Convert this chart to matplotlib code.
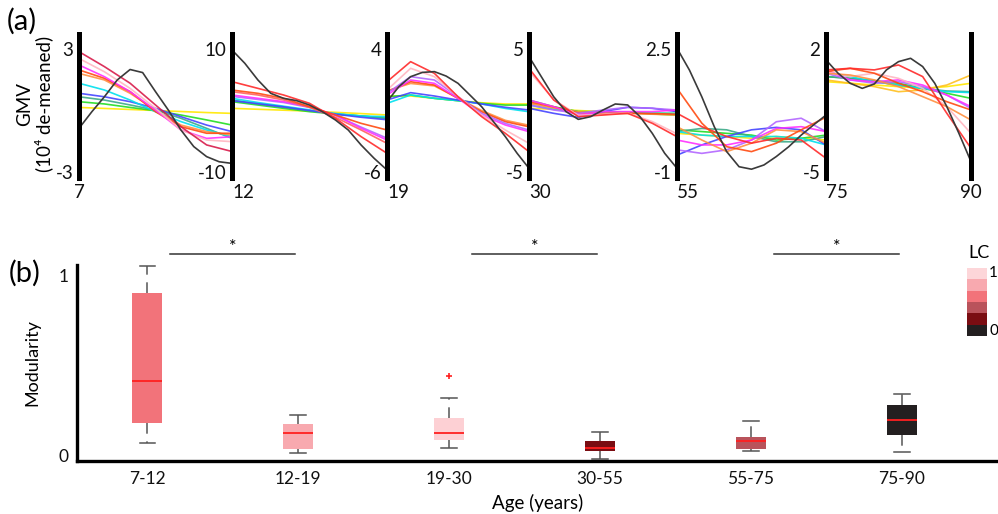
import matplotlib.pyplot as plt
import numpy as np
from matplotlib.colors import ListedColormap

plt.rcParams['font.family'] = ['Lato', 'DejaVu Sans']

# ---- panel (a): GMV trajectories per age window ----
seg_ages = [
    [7, 7.83, 8.67, 9.5, 10.33, 11.17, 12],
    [12, 13.17, 14.33, 15.5, 16.67, 17.83, 19],
    [19, 20.83, 22.67, 24.5, 26.33, 28.17, 30],
    [30, 34.17, 38.33, 42.5, 46.67, 50.83, 55],
    [55, 58.33, 61.67, 65, 68.33, 71.67, 75],
    [75, 77.5, 80, 82.5, 85, 87.5, 90],
]
# the black trajectory is read at a finer age step
black_ages = [
    [7, 7.42, 7.83, 8.25, 8.67, 9.08, 9.5, 9.92, 10.33, 10.75, 11.17, 11.58, 12],
    [12, 12.58, 13.17, 13.75, 14.33, 14.92, 15.5, 16.08, 16.67, 17.25, 17.83, 18.42, 19],
    [19, 19.92, 20.83, 21.75, 22.67, 23.58, 24.5, 25.42, 26.33, 27.25, 28.17, 29.08, 30],
    [30, 32.08, 34.17, 36.25, 38.33, 40.42, 42.5, 44.58, 46.67, 48.75, 50.83, 52.92, 55],
    [55, 56.67, 58.33, 60, 61.67, 63.33, 65, 66.67, 68.33, 70, 71.67, 73.33, 75],
    [75, 76.25, 77.5, 78.75, 80, 81.25, 82.5, 83.75, 85, 86.25, 87.5, 88.75, 90],
]
black_vals = [
    [-0.87, -0.06, 0.67, 1.49, 2.0, 1.85, 0.92, 0.02, -0.95, -1.76, -2.25, -2.5, -2.58],
    [9.84, 7.67, 4.96, 2.79, 1.98, 1.6, 0.89, -0.19, -1.54, -3.17, -5.61, -7.78, -9.67],
    [-0.28, 0.94, 1.75, 2.1, 2.16, 1.8, 1.21, 0.26, -0.69, -1.91, -3.13, -4.48, -5.7],
    [4.38, 2.75, 1.12, -0.09, -0.72, -0.5, 0.04, 0.53, 0.45, -0.5, -1.86, -3.48, -4.7],
    [2.52, 1.9, 1.14, 0.29, -0.42, -0.85, -0.92, -0.8, -0.56, -0.28, 0.05, 0.34, 0.62],
    [1.38, 0.62, 0.05, -0.24, 0.01, 0.81, 1.28, 1.47, 1.0, 0.05, -1.28, -2.8, -4.41],
]
seg_top = [3, 10, 4, 5, 2.5, 2]
seg_bot = [-3, -10, -6, -5, -1, -5]

curve_colors = {
    'yellow': '#ffe800', 'gold': '#ffc020', 'green': '#22dd22', 'teal': '#3caa88',
    'cyan': '#00e0ee', 'blue': '#4545ff', 'purple': '#b366ff', 'magenta': '#ff30ff',
    'orange': '#ff9040', 'orangered': '#ff4a10', 'salmon': '#ff6060', 'pink': '#ffb6c1',
    'red': '#ff2a2a', 'crimson': '#d81b4a',
}

seg1 = {
    'yellow': [0.15, 0.10, 0.05, 0.0, -0.05, -0.10, -0.14],
    'green': [0.43, 0.32, 0.15, -0.01, -0.22, -0.46, -0.71],
    'teal': [0.67, 0.51, 0.27, 0.02, -0.38, -0.87, -1.36],
    'blue': [0.84, 0.67, 0.43, 0.11, -0.30, -0.71, -1.03],
    'cyan': [1.33, 1.0, 0.51, -0.06, -0.54, -0.95, -1.28],
    'orange': [1.81, 1.49, 0.84, 0.02, -0.71, -1.03, -1.2],
    'orangered': [1.98, 1.57, 0.92, -0.06, -0.79, -1.11, -1.11],
    'magenta': [2.22, 1.65, 0.92, 0.02, -0.95, -1.36, -1.28],
    'pink': [2.54, 1.89, 1.08, 0.11, -0.95, -1.44, -1.52],
    'crimson': [2.87, 2.14, 1.33, 0.27, -0.79, -1.68, -2.0],
}
seg2 = {
    'yellow': [0.35, 0.2, 0.05, -0.1, -0.3, -0.5, -0.73],
    'green': [1.44, 0.89, 0.35, -0.19, -0.57, -0.89, -1.27],
    'teal': [1.71, 1.06, 0.51, -0.03, -0.57, -0.89, -1.27],
    'cyan': [1.98, 1.3, 0.7, 0.1, -0.5, -0.9, -1.0],
    'blue': [1.6, 1.1, 0.6, 0.0, -0.6, -1.1, -1.5],
    'purple': [2.3, 1.8, 1.3, 0.5, -0.8, -2.7, -4.5],
    'magenta': [2.52, 1.98, 1.44, 0.62, -0.73, -2.9, -4.8],
    'salmon': [3.06, 2.52, 1.71, 0.51, -1.11, -3.17, -5.34],
    'orangered': [3.33, 2.79, 1.98, 0.62, -0.73, -2.09, -3.17],
    'red': [4.69, 3.6, 2.52, 1.17, -1.27, -4.25, -6.96],
}
seg3 = {
    'yellow': [0.18, 0.18, -0.01, -0.2, -0.37, -0.47, -0.47],
    'green': [0.12, 0.26, -0.01, -0.2, -0.42, -0.56, -0.56],
    'cyan': [-0.42, 0.26, -0.01, -0.2, -0.47, -0.83, -1.1],
    'blue': [-0.15, 0.45, 0.18, -0.15, -0.47, -0.74, -0.96],
    'orange': [0.6, 1.2, 1.0, 0.0, -1.0, -1.8, -2.2],
    'orangered': [0.53, 1.34, 1.07, -0.01, -1.1, -1.91, -2.32],
    'magenta': [0.26, 1.48, 1.21, -0.01, -1.37, -2.18, -2.72],
    'purple': [0.39, 1.75, 1.48, 0.12, -1.23, -2.05, -2.59],
    'pink': [0.66, 2.43, 1.75, 0.12, -1.37, -2.59, -3.67],
    'red': [1.34, 2.97, 2.02, 0.12, -1.5, -2.86, -4.35],
}
seg4 = {
    'yellow': [0.18, 0.1, 0.0, -0.1, -0.15, -0.2, -0.23],
    'cyan': [0.45, 0.1, -0.1, -0.15, -0.15, -0.2, -0.23],
    'green': [0.85, 0.31, -0.09, -0.09, -0.17, -0.28, -0.37],
    'orange': [0.58, 0.2, -0.1, -0.2, -0.25, -0.3, -0.37],
    'orangered': [0.7, 0.3, -0.2, -0.25, -0.2, -0.25, -0.3],
    'blue': [0.18, -0.23, -0.56, -0.09, 0.26, 0.18, -0.09],
    'purple': [0.45, 0.04, -0.23, 0.04, 0.26, 0.18, 0.04],
    'magenta': [0.85, 0.31, -0.37, -0.09, -0.09, -0.09, 0.04],
    'pink': [3.2, 0.9, -0.4, -0.3, -0.2, -0.9, -1.9],
    'red': [3.43, 0.85, -0.5, -0.37, -0.23, -1.04, -2.13],
}
seg5 = {
    'yellow': [0.1, 0.05, 0.01, -0.04, 0.01, -0.04, -0.09],
    'green': [0.2, 0.15, 0.1, 0.05, -0.09, -0.04, 0.05],
    'teal': [0.15, 0.24, 0.2, 0.01, -0.14, -0.14, 0.01],
    'cyan': [0.15, 0.05, 0.01, 0.01, 0.01, -0.04, -0.23],
    'blue': [-0.52, -0.23, 0.01, 0.2, 0.27, 0.2, -0.23],
    'purple': [-0.37, -0.47, -0.37, -0.09, 0.43, 0.53, 0.15],
    'magenta': [-0.09, -0.23, -0.23, -0.09, 0.24, 0.29, 0.15],
    'orange': [0.29, -0.09, -0.42, -0.18, 0.2, 0.15, -0.18],
    'red': [0.67, 0.29, 0.01, -0.18, -0.04, -0.09, -0.61],
    'orangered': [1.38, 0.39, -0.28, -0.42, -0.18, 0.2, 0.56],
}
seg6 = {
    'yellow': [0.14, 0.05, -0.05, -0.14, -0.24, -0.14, 0.05],
    'gold': [0.24, 0.05, -0.14, -0.43, -0.33, -0.05, 0.52],
    'green': [0.43, 0.33, 0.2, 0.05, -0.24, -0.52, -0.81],
    'teal': [0.43, 0.33, 0.14, -0.05, -0.24, -0.39, -0.43],
    'cyan': [0.71, 0.43, 0.14, -0.05, -0.24, -0.43, -0.48],
    'purple': [0.62, 0.24, 0.05, 0.14, -0.14, -0.62, -1.38],
    'magenta': [0.81, 0.24, 0.14, 0.24, -0.05, -0.62, -1.28],
    'pink': [0.71, 0.43, 0.62, 0.33, -0.24, -1.28, -2.8],
    'orange': [0.62, 0.52, 0.24, -0.14, -0.71, -1.28, -2.04],
    'orangered': [0.71, 0.9, 0.62, 0.05, -0.43, -1.0, -1.47],
    'red': [0.81, 0.9, 0.81, 1.09, 0.43, -1.66, -3.65],
}
segments = [seg1, seg2, seg3, seg4, seg5, seg6]

# ---- panel (b): modularity box plots ----
groups = ['7-12', '12-19', '19-30', '30-55', '55-75', '75-90']
whis_lo = [0.068, 0.009, 0.037, -0.022, 0.02, 0.015]
box_q1 = [0.176, 0.031, 0.083, 0.02, 0.035, 0.111]
box_med = [0.411, 0.124, 0.12, 0.039, 0.078, 0.194]
box_q3 = [0.898, 0.172, 0.207, 0.078, 0.1, 0.276]
whis_hi = [1.05, 0.224, 0.318, 0.128, 0.187, 0.339]
outliers = [[], [], [0.439], [], [], []]
box_colors = ['#f2737a', '#f8a9af', '#fdd0d4', '#7a0d12', '#b9535b', '#231f20']
sig_pairs = [(1, 2), (3, 4), (5, 6)]
lc_colors = ['#fdd6d9', '#f8a9af', '#f2737a', '#b9535b', '#7a0d12', '#231f20']

W, H = 998, 514
fig = plt.figure(figsize=(W / 100, H / 100), dpi=100)

edges = [79, 232, 387, 529, 677, 826, 971]
for i, seg in enumerate(segments):
    x0, x1 = edges[i], edges[i + 1]
    ax = fig.add_axes([x0 / W, 1 - 178 / H, (x1 - x0) / W, 144 / H])
    ax.patch.set_alpha(0)
    ages = seg_ages[i]
    top, bot = seg_top[i], seg_bot[i]
    R = top - bot
    for name, vals in seg.items():
        ax.plot(ages, vals, color=curve_colors[name], lw=1.2, alpha=0.9)
    ax.plot(black_ages[i], black_vals[i], color='#3a3a3a', lw=1.2)
    ax.set_xlim(ages[0], ages[-1])
    ax.set_ylim(bot - 6 / 123 * R, top + 15 / 123 * R)
    for s in ['top', 'bottom', 'right']:
        ax.spines[s].set_visible(False)
    ax.spines['left'].set_linewidth(3.6)
    if i == len(segments) - 1:
        ax.spines['right'].set_visible(True)
        ax.spines['right'].set_linewidth(3.6)
        ax.set_xticks([ages[0], ages[-1]])
        ax.set_xticklabels(['%g' % ages[0], '%g' % ages[-1]])
    else:
        ax.set_xticks([ages[0]])
        ax.set_xticklabels(['%g' % ages[0]])
    labs = ax.get_xticklabels()
    labs[0].set_horizontalalignment('center' if i == 0 else 'left')
    if i == len(segments) - 1:
        labs[-1].set_horizontalalignment('center')
    ax.set_yticks([bot, top])
    ax.set_yticklabels(['%g' % bot, '%g' % top])
    ax.tick_params(axis='both', length=0, labelsize=13.5, colors='#111111')
    ax.tick_params(axis='y', pad=4)
    ax.tick_params(axis='x', pad=4)

fig.text(0.035, 0.797, 'GMV\n(10\u2074 de-meaned)', rotation=90, ha='center',
         va='center', fontsize=13.5, linespacing=1.05)
fig.text(0.007, 0.958, '(a)', fontsize=21, va='center')
fig.text(0.009, 0.468, '(b)', fontsize=21, va='center')

axb = fig.add_axes([77 / W, 1 - 461 / H, 1 - 77 / W, 196 / H])
stats = []
for k in range(len(groups)):
    stats.append(dict(med=box_med[k], q1=box_q1[k], q3=box_q3[k],
                      whislo=whis_lo[k], whishi=whis_hi[k], fliers=outliers[k]))
pos = np.arange(1, len(groups) + 1)
bp = axb.bxp(stats, positions=pos, widths=0.2, capwidths=0.1, patch_artist=True,
             boxprops=dict(edgecolor='none', linewidth=0),
             medianprops=dict(color='#ff2020', linewidth=1.3),
             whiskerprops=dict(color='#555555', linewidth=1.1, linestyle=(0, (7, 5))),
             capprops=dict(color='#555555', linewidth=1.1),
             flierprops=dict(marker='+', markeredgecolor='#ff2020', markersize=5,
                             markeredgewidth=1.2))
for patch, c in zip(bp['boxes'], box_colors):
    patch.set_facecolor(c)

axb.set_xlim(0.536, 6.636)
axb.set_ylim(-0.033, 1.056)
axb.set_xticks(pos)
axb.set_xticklabels(groups)
axb.set_yticks([0, 1])
axb.set_yticklabels(['0', '1'])
axb.tick_params(axis='both', length=0, labelsize=12.5, colors='#111111')
axb.tick_params(axis='x', pad=7)
axb.tick_params(axis='y', pad=6)
for s in ['top', 'right']:
    axb.spines[s].set_visible(False)
axb.spines['left'].set_linewidth(2.4)
axb.spines['bottom'].set_linewidth(2.4)
axb.set_ylabel('Modularity', fontsize=13, labelpad=13)
axb.set_xlabel('Age (years)', fontsize=13.5, labelpad=5)

for a, b in sig_pairs:
    axb.plot([a + 0.15, b - 0.02], [1.117, 1.117], color='#333333', lw=1.1, clip_on=False)
    axb.text((a + b) / 2 + 0.07, 1.11, '*', ha='center', va='bottom', fontsize=13,
             clip_on=False)

axl = fig.add_axes([967 / W, 1 - 336 / H, 20 / W, 68 / H])
axl.imshow(np.arange(len(lc_colors))[:, None], cmap=ListedColormap(lc_colors),
           aspect='auto', interpolation='nearest')
axl.set_xticks([])
axl.set_yticks([])
for s in axl.spines.values():
    s.set_visible(False)
fig.text(979 / W, 1 - 253 / H, 'LC', ha='center', va='center', fontsize=13)
fig.text(989 / W, 1 - 273 / H, '1', ha='left', va='center', fontsize=11)
fig.text(989 / W, 1 - 331 / H, '0', ha='left', va='center', fontsize=11)

fig.savefig('out.png', dpi=100)
